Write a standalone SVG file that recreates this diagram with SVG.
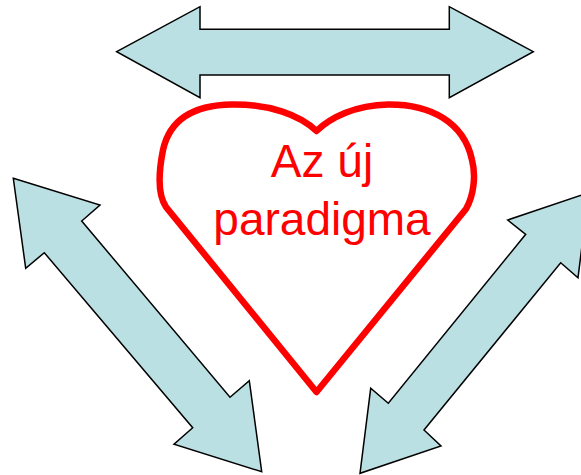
<svg xmlns="http://www.w3.org/2000/svg" width="581" height="475" viewBox="0 0 581 475">
<style>
.arrow{fill:#BBE0E3;stroke:#000;stroke-width:1.5;stroke-linejoin:miter}
.heart{fill:#fff;stroke:#FF0000;stroke-width:6.5;stroke-linejoin:round}
.label{font-family:"Liberation Sans",Arial,sans-serif;font-size:46px;fill:#FF0000;text-anchor:middle}
</style>
<rect width="581" height="475" fill="#fff"/>
<g id="connectors">
<polygon id="arrow-top" class="arrow" points="116.7,51.7 200,6.7 200,29.3 449.3,29.3 449.3,6.7 533.3,51.7 449.3,97.7 449.3,75 200,75 200,97.7"/>
<polygon id="arrow-left" class="arrow" points="13.3,178.3 100,205 81.7,221 230,397.3 249.3,380.7 261.7,471.7 174,444.3 192.7,427.7 44.3,252.7 25.7,268.3"/>
<polygon id="arrow-right" class="arrow" points="588.7,192.7 578,277.7 560.7,262.7 424,430 441,446 360,473.3 370.7,388.3 388.3,403.3 525.7,234.3 507.7,220"/>
</g>
<g id="heart">
<path class="heart" d="M316.5,131 C300,115 270,104 232,104.5 C195,105 170,118 163,150 C158,175 158,195 166,207 L316.5,392 L466,209 C474,195 476,175 472,160 C464,122 430,104 388,104.5 C355,105 330,118 316.5,131 Z"/>
<text class="label" x="322" y="177">Az új</text>
<text class="label" x="322" y="235">paradigma</text>
</g>
</svg>
